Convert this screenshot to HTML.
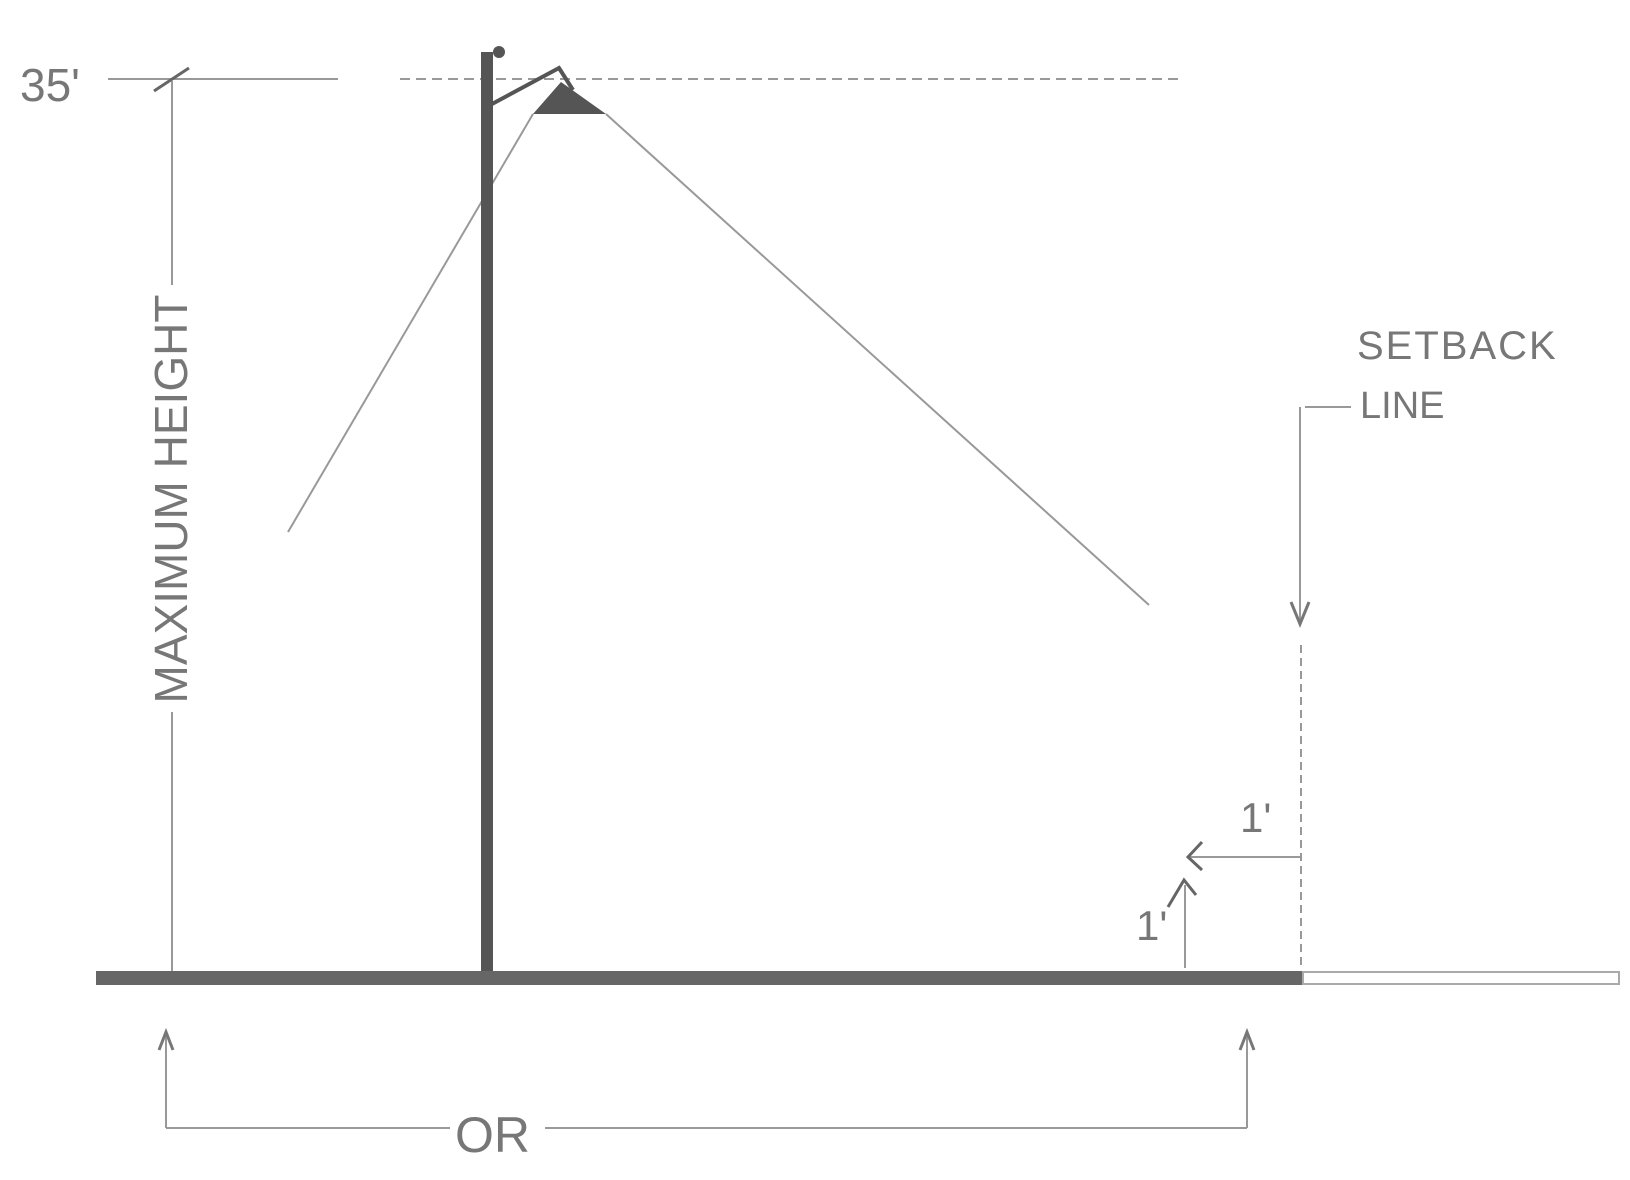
<!DOCTYPE html>
<html><head><meta charset="utf-8"><style>
html,body{margin:0;padding:0;background:#fff;}
svg{display:block;}
text{font-family:"Liberation Sans",sans-serif;fill:#777;}
</style></head><body>
<svg width="1630" height="1180" viewBox="0 0 1630 1180" xmlns="http://www.w3.org/2000/svg">
<g stroke="#999" stroke-width="2" fill="none">
  <line x1="108" y1="79" x2="338" y2="79"/>
  <line x1="400" y1="79" x2="1178" y2="79" stroke-dasharray="10,6"/>
  <line x1="154" y1="91" x2="189" y2="68" stroke="#666" stroke-width="3"/>
  <line x1="172" y1="81" x2="172" y2="285"/>
  <line x1="172" y1="712" x2="172" y2="975"/>
  <line x1="533" y1="114" x2="288" y2="532"/>
  <line x1="606" y1="114" x2="1149" y2="605"/>
  <line x1="1305" y1="407" x2="1351" y2="407"/>
  <line x1="1300" y1="407" x2="1300" y2="624"/>
  <polyline points="1291,602 1300,624 1309,602" stroke="#777" stroke-width="3"/>
  <line x1="1301" y1="645" x2="1301" y2="970" stroke-dasharray="8,5"/>
  <line x1="1190" y1="857" x2="1300" y2="857"/>
  <polyline points="1202,842 1188,857 1202,870" stroke="#666" stroke-width="3"/>
  <line x1="1185" y1="885" x2="1185" y2="968"/>
  <polyline points="1168,907 1184,880 1196,895" stroke="#666" stroke-width="3"/>
  <line x1="166" y1="1034" x2="166" y2="1128"/>
  <polyline points="159,1050 166,1032 173,1050" stroke="#777" stroke-width="3"/>
  <line x1="1247" y1="1034" x2="1247" y2="1128"/>
  <polyline points="1240,1050 1247,1032 1254,1050" stroke="#777" stroke-width="3"/>
  <line x1="166" y1="1128" x2="450" y2="1128"/>
  <line x1="545" y1="1128" x2="1247" y2="1128"/>
</g>
<rect x="481" y="52" width="12" height="925" fill="#555"/>
<circle cx="499" cy="52" r="6" fill="#555"/>
<polyline points="492,104 559,68 573,90" fill="none" stroke="#555" stroke-width="4"/>
<polygon points="561,82 533,114 606,114" fill="#555"/>
<rect x="96" y="971" width="1207" height="14" fill="#666"/>
<rect x="1303" y="972" width="316" height="12" fill="#fff" stroke="#aaa" stroke-width="2"/>
<text x="20" y="101" font-size="46">35'</text>
<text transform="translate(187,499) rotate(-90)" font-size="46" text-anchor="middle">MAXIMUM HEIGHT</text>
<text x="1357" y="359" font-size="40" letter-spacing="2">SETBACK</text>
<text x="1360" y="418" font-size="38">LINE</text>
<text x="1240" y="832" font-size="42">1'</text>
<text x="1136" y="940" font-size="42">1'</text>
<text x="455" y="1152" font-size="50">OR</text>
</svg>
</body></html>
